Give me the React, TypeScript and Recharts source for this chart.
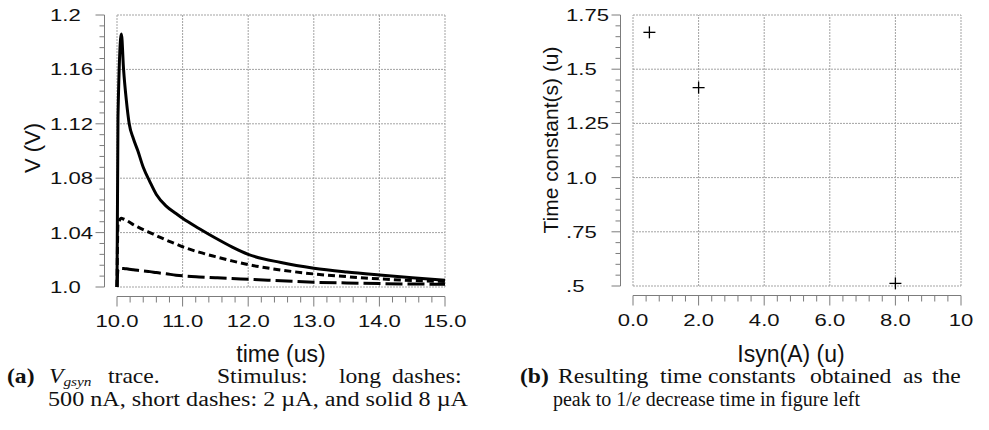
import React from 'react';
import { LineChart, Line, ScatterChart, Scatter, XAxis, YAxis, ReferenceLine } from 'recharts';

// (a) V_gsyn traces, time in us
const timeUs = [10.0, 10.015, 10.067, 10.1, 10.143, 10.186, 10.25, 10.315, 10.4, 10.5, 10.6, 10.75, 10.9, 11.0, 11.25, 11.5, 11.75, 12.0, 12.5, 13.0, 13.5, 14.0, 14.5, 15.0];
const vSolid8uA = [1.0, 1.125, 1.186, 1.16, 1.137, 1.12, 1.109, 1.1005, 1.088, 1.0775, 1.068, 1.0595, 1.054, 1.0505, 1.043, 1.036, 1.0295, 1.024, 1.018, 1.0138, 1.011, 1.0088, 1.0068, 1.005];
const vShort2uA = [1.0, 1.046, 1.0505, 1.05, 1.049, 1.0478, 1.0458, 1.0442, 1.0422, 1.04, 1.0378, 1.0345, 1.0316, 1.0296, 1.0256, 1.0223, 1.0192, 1.0165, 1.0125, 1.0096, 1.0076, 1.006, 1.0048, 1.004];
const vLong500nA = [1.0, 1.013, 1.0137, 1.0136, 1.0134, 1.0131, 1.0127, 1.0123, 1.0118, 1.0113, 1.0106, 1.0097, 1.0087, 1.0082, 1.0074, 1.0068, 1.0062, 1.0057, 1.0046, 1.0035, 1.003, 1.0025, 1.0022, 1.002];

// (b) time constants
const isynUa = [0.5, 2.0, 8.0];
const tauUs = [1.67, 1.415, 0.512];

// ticks
const timeTicks = [10, 11, 12, 13, 14, 15];
const timeLabels = ['10.0', '11.0', '12.0', '13.0', '14.0', '15.0'];
const vTicks = [1.0, 1.04, 1.08, 1.12, 1.16, 1.2];
const vLabels = ['1.0', '1.04', '1.08', '1.12', '1.16', '1.2'];
const isynTicks = [0, 2, 4, 6, 8, 10];
const isynLabels = ['0.0', '2.0', '4.0', '6.0', '8.0', '10'];
const tauTicks = [0.5, 0.75, 1.0, 1.25, 1.5, 1.75];
const tauLabels = ['.5', '.75', '1.0', '1.25', '1.5', '1.75'];

const SANS = '"Liberation Sans", Arial, Helvetica, sans-serif';
const SERIF = '"Liberation Serif", "Times New Roman", serif';
const AXIS_GREY = '#7c7c7c';
const GRID_GREY = '#a3a3a3';

// plot boxes (page pixels) — same as the chart margins below
const LEFT_PLOT = { left: 117, top: 15, width: 328, height: 272 };
const RIGHT_PLOT = { left: 633, top: 15, width: 328, height: 271 };

// 4 minor ticks between majors
function withMinor(majors: number[], parts = 5) {
  const out: number[] = [];
  for (let i = 0; i < majors.length - 1; i++) {
    const step = (majors[i + 1] - majors[i]) / parts;
    for (let k = 0; k < parts; k++) out.push(+(majors[i] + k * step).toFixed(6));
  }
  out.push(majors[majors.length - 1]);
  return out;
}

const majorIndex = (majors: number[], v: number) => majors.findIndex(m => Math.abs(m - v) < 1e-6);

// tick labels only; tick marks + axis lines are drawn in the overlay
function YTick(props: any) {
  const { x, y, payload, majors, labels } = props;
  const i = majorIndex(majors, payload.value);
  if (i < 0) return <g />;
  return (
    <text transform={`translate(${Number(x) - 67},${Number(y) + 6}) scale(1.3,1)`} fontSize={17} fontFamily={SANS} fill="#111">
      {labels[i]}
    </text>
  );
}

function XTick(props: any) {
  const { x, y, payload, majors, labels } = props;
  const i = majorIndex(majors, payload.value);
  if (i < 0) return <g />;
  return (
    <text transform={`translate(${Number(x)},${Number(y) + 40}) scale(1.3,1)`} textAnchor="middle" fontSize={17} fontFamily={SANS} fill="#111">
      {labels[i]}
    </text>
  );
}

// offset axes: y axis 13px left of the plot, x axis 10px below it
function AxisChrome({ box, xMajors, yMajors }: any) {
  const { left, top, width, height } = box;
  const x0 = xMajors[0], x1 = xMajors[xMajors.length - 1];
  const y0 = yMajors[0], y1 = yMajors[yMajors.length - 1];
  const px = (v: number) => left + ((v - x0) / (x1 - x0)) * width;
  const py = (v: number) => top + height - ((v - y0) / (y1 - y0)) * height;
  const ax = left - 12.5;
  const ay = top + height + 9.5;
  return (
    <g stroke={AXIS_GREY} strokeWidth={1} fill="none">
      <path d={`M${ax},${top}V${top + height}`} />
      <path d={`M${left},${ay}H${left + width}`} />
      {withMinor(yMajors).map(v => (
        <path key={'y' + v} d={`M${ax},${py(v)}H${ax - (majorIndex(yMajors, v) >= 0 ? 9 : 5)}`} />
      ))}
      {withMinor(xMajors).map(v => (
        <path key={'x' + v} d={`M${px(v)},${ay}V${ay + (majorIndex(xMajors, v) >= 0 ? 10 : 6)}`} />
      ))}
    </g>
  );
}

function PlusMark(props: any) {
  const { cx, cy } = props;
  return (
    <g>
      <line x1={cx - 6} x2={cx + 6} y1={cy} y2={cy} stroke="#000" strokeWidth={1.3} />
      <line x1={cx} x2={cx} y1={cy - 6} y2={cy + 6} stroke="#000" strokeWidth={1.3} />
    </g>
  );
}

const gridLines = (xs: number[], ys: number[]) => [
  ...xs.map(v => <ReferenceLine key={'gx' + v} x={v} stroke={GRID_GREY} strokeDasharray="2 1" strokeWidth={1} />),
  ...ys.map(v => <ReferenceLine key={'gy' + v} y={v} stroke={GRID_GREY} strokeDasharray="2 1" strokeWidth={1} />),
];

function CapWord({ x, y, children, ...rest }: any) {
  return (
    <text transform={`translate(${x},${y}) scale(1.18,1)`} fontFamily={SERIF} fontSize={20} fill="#111" {...rest}>
      {children}
    </text>
  );
}

export default function App() {
  const traceRows = timeUs.map((t, i) => ({
    t,
    solid: vSolid8uA[i],
    short: vShort2uA[i],
    long: vLong500nA[i],
  }));
  const tauRows = isynUa.map((x, i) => ({ x, y: tauUs[i] }));

  return (
    <div style={{ position: 'absolute', left: 0, top: 0, width: 989, height: 430, background: '#fff' }}>
      <div style={{ position: 'absolute', left: 0, top: 0 }}>
        <LineChart width={480} height={375} data={traceRows} margin={{ top: 15, right: 35, bottom: 28, left: 57 }}>
          {gridLines(timeTicks, vTicks)}
          <XAxis
            dataKey="t"
            type="number"
            domain={[10, 15]}
            ticks={withMinor(timeTicks)}
            interval={0}
            height={60}
            tickSize={0}
            tickMargin={0}
            axisLine={false}
            tickLine={false}
            tick={(p: any) => <XTick {...p} majors={timeTicks} labels={timeLabels} />}
          />
          <YAxis
            type="number"
            domain={[1.0, 1.2]}
            ticks={withMinor(vTicks)}
            interval={0}
            width={60}
            tickSize={0}
            tickMargin={0}
            axisLine={false}
            tickLine={false}
            tick={(p: any) => <YTick {...p} majors={vTicks} labels={vLabels} />}
          />
          <Line type="monotone" dataKey="long" stroke="#000" strokeWidth={3} strokeDasharray="17 5" dot={false} isAnimationActive={false} />
          <Line type="monotone" dataKey="short" stroke="#000" strokeWidth={3} strokeDasharray="7 4" dot={false} isAnimationActive={false} />
          <Line type="monotone" dataKey="solid" stroke="#000" strokeWidth={3} dot={false} isAnimationActive={false} />
        </LineChart>
      </div>

      <div style={{ position: 'absolute', left: 500, top: 0 }}>
        <ScatterChart width={489} height={375} margin={{ top: 15, right: 28, bottom: 29, left: 73 }}>
          {gridLines(isynTicks, tauTicks)}
          <XAxis
            dataKey="x"
            type="number"
            domain={[0, 10]}
            ticks={withMinor(isynTicks)}
            interval={0}
            height={60}
            tickSize={0}
            tickMargin={0}
            axisLine={false}
            tickLine={false}
            tick={(p: any) => <XTick {...p} majors={isynTicks} labels={isynLabels} />}
          />
          <YAxis
            dataKey="y"
            type="number"
            domain={[0.5, 1.75]}
            ticks={withMinor(tauTicks)}
            interval={0}
            width={60}
            tickSize={0}
            tickMargin={0}
            axisLine={false}
            tickLine={false}
            tick={(p: any) => <YTick {...p} majors={tauTicks} labels={tauLabels} />}
          />
          <Scatter data={tauRows} shape={PlusMark} isAnimationActive={false} />
        </ScatterChart>
      </div>

      <svg width={989} height={430} style={{ position: 'absolute', left: 0, top: 0, pointerEvents: 'none' }}>
        <AxisChrome box={LEFT_PLOT} xMajors={timeTicks} yMajors={vTicks} />
        <AxisChrome box={RIGHT_PLOT} xMajors={isynTicks} yMajors={tauTicks} />

        {/* axis titles */}
        <g fontFamily={SANS} fill="#111">
          <text transform="translate(40,148) rotate(-90)" textAnchor="middle" fontSize={22}>V (V)</text>
          <text x={281} y={362} textAnchor="middle" fontSize={23}>time (us)</text>
          <text transform="translate(558,140) rotate(-90)" textAnchor="middle" fontSize={21}>Time constant(s) (u)</text>
          <text x={791} y={362} textAnchor="middle" fontSize={23}>Isyn(A) (u)</text>
        </g>

        {/* caption (a) */}
        <CapWord x={7} y={383} fontWeight="bold">(a)</CapWord>
        <CapWord x={49} y={383} fontStyle="italic">
          V<tspan fontSize={13} dy={3}>gsyn</tspan>
        </CapWord>
        <CapWord x={108} y={383}>trace.</CapWord>
        <CapWord x={217} y={383}>Stimulus:</CapWord>
        <CapWord x={339} y={383}>long</CapWord>
        <CapWord x={392} y={383}>dashes:</CapWord>
        <text x={48} y={406} fontFamily={SERIF} fontSize={20} fill="#111" textLength={420} lengthAdjust="spacingAndGlyphs">
          500 nA, short dashes: 2 µA, and solid 8 µA
        </text>

        {/* caption (b) */}
        <CapWord x={520} y={383} fontWeight="bold">(b)</CapWord>
        <CapWord x={558} y={383}>Resulting</CapWord>
        <CapWord x={660} y={383}>time</CapWord>
        <CapWord x={708} y={383}>constants</CapWord>
        <CapWord x={810} y={383}>obtained</CapWord>
        <CapWord x={903} y={383}>as</CapWord>
        <CapWord x={932} y={383}>the</CapWord>
        <text x={553} y={406} fontFamily={SERIF} fontSize={20} fill="#111" textLength={307} lengthAdjust="spacingAndGlyphs">
          peak to 1/<tspan fontStyle="italic">e</tspan> decrease time in figure left
        </text>
      </svg>
    </div>
  );
}
